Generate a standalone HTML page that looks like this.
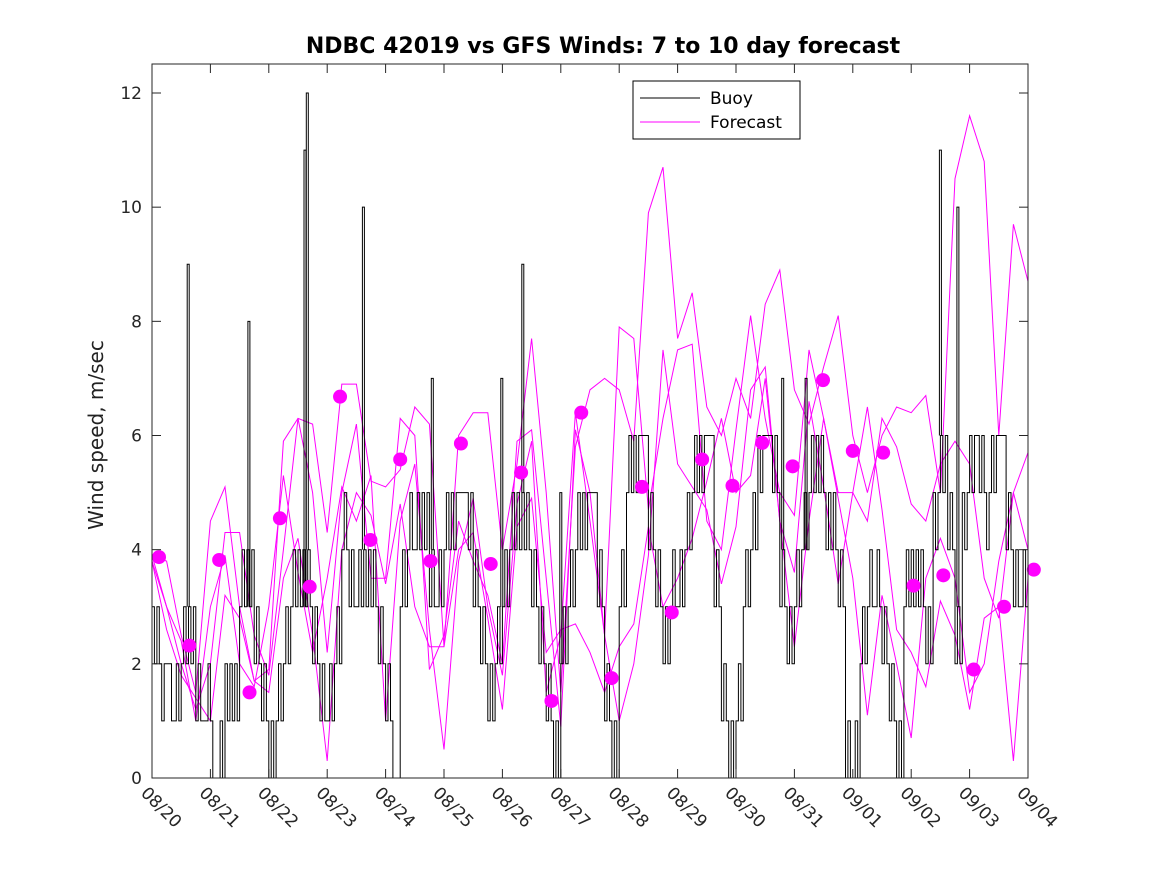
<!DOCTYPE html>
<html><head><meta charset="utf-8"><style>
body{margin:0;background:#fff;}
svg{font-family:"DejaVu Sans","Liberation Sans",sans-serif;}
</style></head><body>
<svg id="chart" width="1167" height="875" viewBox="0 0 1167 875">
<rect width="1167" height="875" fill="#fff"/>
<defs><clipPath id="plotclip"><rect x="152" y="64" width="876" height="714"/></clipPath></defs>
<text x="603" y="53" text-anchor="middle" font-size="22" font-weight="bold">NDBC 42019 vs GFS Winds: 7 to 10 day forecast</text>
<text transform="translate(103,435) rotate(-90)" text-anchor="middle" font-size="20" fill="#222">Wind speed, m/sec</text>
<g id="plot" clip-path="url(#plotclip)"></g>
<g id="markers"></g>
<g id="axes"></g>
<g>
<rect x="633" y="81" width="167" height="58" fill="#fff" stroke="#000" stroke-width="1"/>
<line x1="640" y1="98" x2="700" y2="98" stroke="#000"/>
<text x="710" y="104" font-size="17">Buoy</text>
<line x1="640" y1="122" x2="700" y2="122" stroke="#ff00ff"/>
<text x="710" y="128" font-size="17">Forecast</text>
</g>
</svg>
<script>
const xTickLabels=["08/20","08/21","08/22","08/23","08/24","08/25","08/26","08/27","08/28","08/29","08/30","08/31","09/01","09/02","09/03","09/04"];
const yTicks=[0,2,4,6,8,10,12];
const buoyHourly=("323212221121232323121112"+"100010212121343434232121"+"010121232343434343232121"+"121232454343343434343232"+
"121000343454454545343343"+"454545555545343232121232"+"343454545454343232121010"+"232343454545555343121010"+
"343565656666454343232343"+"343454565656666343121010"+"121343454656666565343232"+"343454565656545454343010"+
"010232343343232121010343"+"434343232545656454232545"+"656656545656666454343343"+"4").split('').map(Number);
const spikeDays=[0.62,1.66,2.62,2.66,3.62,4.8,5.99,6.35,7.0,10.8,11.2,13.5,13.8];
const spikeVals=[9,8,11,12,10,7,7,9,5,7,7,11,10];
const fc1=[3.9,3.8,2.5,1.5, 4.5,5.1,3.0,1.7, 1.9,5.9,6.3,6.2, 4.3,6.9,6.9,5.2, 5.1,5.4,6.5,6.2, 2.3,6.0,6.4,6.4, 4.0,5.5,7.7,5.0, 1.5,5.8,6.8,7.0, 6.8,5.9,9.9,10.7, 7.7,8.5,6.5,6.0, 7.0,6.3,8.3,8.9, 6.8,6.2,7.2,8.1, 6.0,5.0,6.0,6.5, 6.4,6.7,5.0,10.5, 11.6,10.8,6.0,9.7, 8.7];
const fc2=[3.8,3.0,2.0,1.2, 2.0,4.3,4.3,2.5, 1.8,4.0,6.3,5.0, 2.2,5.0,6.2,3.5, 3.5,6.3,6.0,1.9, 2.5,4.5,3.8,3.2, 2.0,5.9,6.1,3.5, 0.9,6.1,5.0,2.5, 7.9,7.7,4.7,6.3, 7.5,7.6,4.5,4.0, 6.1,8.1,6.3,5.0, 4.6,7.5,6.3,5.0, 5.0,4.5,6.3,5.8, 4.8,4.5,5.5,5.9, 5.5,3.5,2.8,5.0, 5.7];
const fc3=[3.8,2.6,1.8,1.4, 1.0,3.2,2.8,1.7, 1.5,3.5,4.2,2.5, 0.3,4.0,5.0,4.6, 3.4,4.8,3.0,2.3, 2.3,4.0,4.3,2.8, 1.2,4.4,4.9,2.2, 2.6,2.7,2.2,1.5, 2.3,2.7,4.4,3.0, 3.5,4.2,5.2,6.3, 5.0,5.3,7.0,4.5, 2.3,4.5,6.3,4.9, 3.5,1.1,3.2,2.0, 0.7,3.5,4.2,3.5, 1.5,2.0,3.8,5.0, 4.0];
const fc4=[3.9,3.0,2.4,1.0, 3.0,3.9,2.0,1.6, 3.0,5.3,3.6,2.2, 3.5,5.1,4.5,5.3, 1.0,4.5,5.5,2.6, 0.5,3.8,4.9,3.0, 1.8,4.8,5.9,1.5, 2.5,6.4,4.5,2.5, 1.0,2.0,3.9,7.5, 5.5,5.1,4.7,3.4, 4.4,6.8,7.2,4.5, 3.6,6.6,5.1,3.4, 5.0,6.5,4.7,2.6, 2.2,1.6,3.1,2.5, 1.2,2.8,3.0,0.3, 3.5];
const markerDays=[0.12,0.64,1.15,1.67,2.19,2.70,3.22,3.74,4.25,4.77,5.29,5.80,6.32,6.84,7.35,7.87,8.39,8.90,9.42,9.94,10.45,10.97,11.49,12.00,12.52,13.04,13.55,14.07,14.59,15.10];
const markerVals=[3.87,2.32,3.82,1.5,4.55,3.35,6.68,4.17,5.58,3.8,5.86,3.75,5.35,1.35,6.4,1.75,5.1,2.9,5.58,5.12,5.87,5.46,6.97,5.73,5.7,3.37,3.55,1.9,3.0,3.65];

const X0=152,X1=1028,Y0=778,Y1=64;
const xs=d=>X0+(X1-X0)*d/15;
const ys=v=>Y0-(Y0-93)*v/12;
const NS='http://www.w3.org/2000/svg';
const plot=document.getElementById('plot');
function mk(tag,parent,attrs){const e=document.createElementNS(NS,tag);for(const k in attrs)e.setAttribute(k,attrs[k]);parent.appendChild(e);return e;}

[fc1,fc2,fc3,fc4].forEach((s,i)=>{
  const pts=s.map((v,j)=>xs(j*0.25).toFixed(1)+','+ys(v).toFixed(1)).join(' ');
  const p=mk('polyline',plot,{points:pts,fill:'none',stroke:'#ff00ff','stroke-width':1});
  
  
});
let d='';
buoyHourly.forEach((v,j)=>{const x=xs(j/24),y=ys(v);d+=(j?'H'+x.toFixed(1)+'V'+y.toFixed(1):'M'+x.toFixed(1)+','+y.toFixed(1));});
d+='H'+xs(15.2);
const bp=mk('path',plot,{d:d,fill:'none',stroke:'#000','stroke-width':1});


spikeDays.forEach((sd,i)=>{
  const x=xs(sd);
  const base=buoyHourly[Math.min(buoyHourly.length-1,Math.round(sd*24))];
  const s=mk('path',plot,{d:'M'+(x-1).toFixed(1)+','+ys(base)+'V'+ys(spikeVals[i])+'H'+(x+1).toFixed(1)+'V'+ys(base),fill:'none',stroke:'#000','stroke-width':1});
  
  
});
const mg=document.getElementById('markers');
markerDays.forEach((md,i)=>{
  const c=mk('circle',mg,{cx:xs(md),cy:ys(markerVals[i]),r:7,fill:'#ff00ff'});
  
  
});
const ax=document.getElementById('axes');
const box=mk('rect',ax,{x:X0,y:Y1,width:X1-X0,height:Y0-Y1,fill:'none',stroke:'#262626','stroke-width':1});


yTicks.forEach(v=>{
  const y=ys(v);
  mk('line',ax,{x1:X0,y1:y,x2:X0+9,y2:y,stroke:'#262626'});
  mk('line',ax,{x1:X1,y1:y,x2:X1-9,y2:y,stroke:'#262626'});
  const t=mk('text',ax,{x:X0-10,y:y+6,'text-anchor':'end','font-size':17,fill:'#262626'});
  t.textContent=v;
  
  
});
xTickLabels.forEach((lab,i)=>{
  const x=xs(i);
  mk('line',ax,{x1:x,y1:Y0,x2:x,y2:Y0-9,stroke:'#262626'});
  mk('line',ax,{x1:x,y1:Y1,x2:x,y2:Y1+9,stroke:'#262626'});
  const t=mk('text',ax,{transform:'translate('+(x-12)+','+(Y0+16)+') rotate(45)','font-size':17,fill:'#262626'});
  t.textContent=lab;
  
  
});
</script>
</body></html>
